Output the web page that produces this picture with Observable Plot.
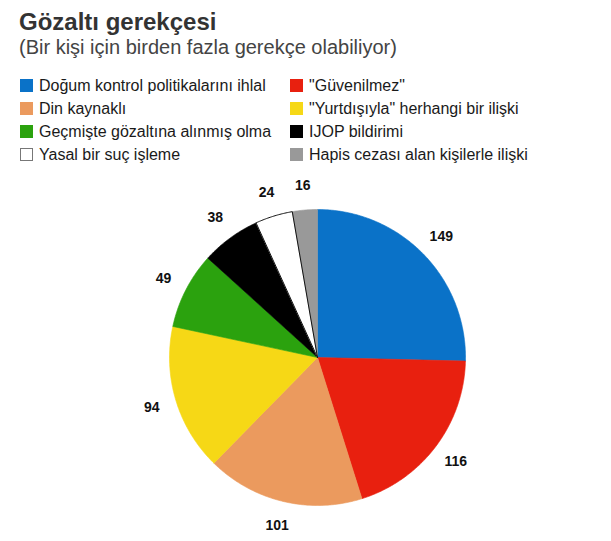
<!DOCTYPE html>
<html>
<head>
<meta charset="utf-8">
<script src="https://cdn.jsdelivr.net/npm/d3@7"></script>
<script src="https://cdn.jsdelivr.net/npm/@observablehq/plot@0.6"></script>
<style>
  html, body { margin: 0; padding: 0; background: #fff; }
  body { width: 611px; height: 541px; position: relative; overflow: hidden;
         font-family: "Liberation Sans", Arial, Helvetica, sans-serif; }
  #title { position: absolute; left: 19px; top: 10px; font-size: 24px; line-height: 24px;
           font-weight: bold; color: #333; white-space: nowrap; }
  #subtitle { position: absolute; left: 19px; top: 37px; font-size: 20px; line-height: 20px;
              color: #444; white-space: nowrap; }
  .item { position: absolute; height: 23px; font-size: 16px; line-height: 23px; color: #1a1a1a; white-space: nowrap; }
  .sw { position: absolute; left: 0; top: 5px; width: 13px; height: 13px; box-sizing: border-box; }
  .lbl { position: absolute; left: 19px; top: 0; }
  #chart { position: absolute; left: 0; top: 170px; }
</style>
</head>
<body>
<div id="title">Gözaltı gerekçesi</div>
<div id="subtitle">(Bir kişi için birden fazla gerekçe olabiliyor)</div>
<div id="legend"></div>
<div id="chart"></div>
<script>
const categories = [
  "Doğum kontrol politikalarını ihlal",
  "\"Güvenilmez\"",
  "Din kaynaklı",
  "\"Yurtdışıyla\" herhangi bir ilişki",
  "Geçmişte gözaltına alınmış olma",
  "IJOP bildirimi",
  "Yasal bir suç işleme",
  "Hapis cezası alan kişilerle ilişki"
];
const values = [149, 116, 101, 94, 49, 38, 24, 16];
const colors = ["#0a72c8", "#e8200f", "#eb9a5e", "#f6d816", "#2ba20e", "#000000", "#ffffff", "#999999"];
// legend order (two columns, row by row)
const legendOrder = [0, 1, 2, 3, 4, 6, 7, 5].length ? [
  [0, 0], [1, 1], [2, 0], [3, 1], [4, 0], [5, 1], [6, 0], [7, 1]
] : [];

// Legend
const legend = document.getElementById("legend");
const legendRows = [[0, 1], [2, 3], [4, 5], [6, 7]];
legendRows.forEach((row, r) => {
  row.forEach((ci, c) => {
    const it = document.createElement("div");
    it.className = "item";
    it.style.left = (c === 0 ? 20 : 290) + "px";
    it.style.top = (74 + r * 23) + "px";
    const sw = document.createElement("div");
    sw.className = "sw";
    sw.style.background = colors[ci];
    if (colors[ci] === "#ffffff") sw.style.border = "1.5px solid #777";
    const lb = document.createElement("span");
    lb.className = "lbl";
    lb.textContent = categories[ci];
    it.appendChild(sw); it.appendChild(lb);
    legend.appendChild(it);
  });
});

// Pie geometry from the values
const W = 611, H = 371, cx = 317, cy = 187, R = 148, LR = 173;
const data = categories.map((c, i) => ({cat: c, value: values[i], color: colors[i]}));
const arcs = d3.pie().sort(null).value(d => d.value)(data);
const pts = [];
arcs.forEach(a => {
  pts.push({cat: a.data.cat, x: 0, y: 0});
  const n = Math.max(2, Math.ceil((a.endAngle - a.startAngle) / (Math.PI / 360)));
  for (let k = 0; k <= n; k++) {
    const t = a.startAngle + (a.endAngle - a.startAngle) * k / n;
    pts.push({cat: a.data.cat, x: R * Math.sin(t), y: -R * Math.cos(t)});
  }
  pts.push({cat: a.data.cat, x: 0, y: 0});
});
const labels = arcs.map(a => {
  const m = (a.startAngle + a.endAngle) / 2;
  return {x: LR * Math.sin(m), y: -LR * Math.cos(m), text: String(a.data.value)};
});
const whiteCat = categories[6];

const plot = Plot.plot({
  width: W, height: H,
  margin: 0,
  x: {domain: [-cx, W - cx], range: [0, W], axis: null},
  y: {domain: [-cy, H - cy], range: [0, H], axis: null},
  color: {domain: categories, range: colors},
  style: {fontFamily: "'Liberation Sans', Arial, Helvetica, sans-serif", background: "#fff"},
  marks: [
    Plot.line(pts, {x: "x", y: "y", z: "cat", fill: "cat", stroke: "cat", strokeWidth: 0.6, curve: "linear"}),
    Plot.line(pts.filter(p => p.cat === whiteCat), {x: "x", y: "y", z: "cat", fill: "none", stroke: "#111", strokeWidth: 1}),
    Plot.text(labels, {x: "x", y: "y", text: "text", fontWeight: "bold", fontSize: 14, fill: "#111", textAnchor: "middle", lineAnchor: "middle"})
  ]
});
document.getElementById("chart").appendChild(plot);
</script>
</body>
</html>
